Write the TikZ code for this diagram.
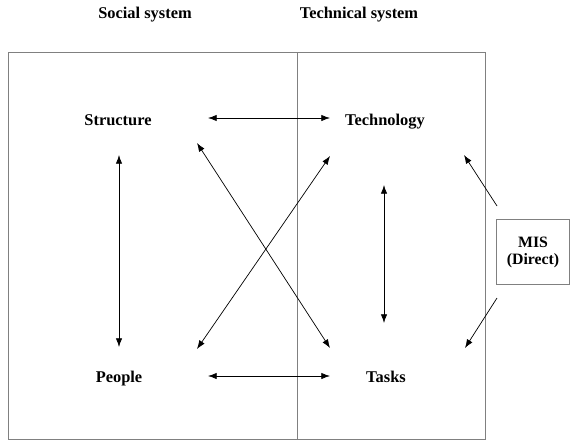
\documentclass[tikz,border=0pt]{standalone}
\usepackage{fontspec}
\setmainfont{Liberation Serif}
\usetikzlibrary{arrows.meta}

\tikzset{
  lbl/.style={font=\fontsize{14}{16}\selectfont\bfseries,text height=9pt,text depth=3pt},
  misbox/.style={draw=gray,thin,align=center,minimum width=2.2cm,minimum height=1.95cm,
    font=\fontsize{13.5}{14.5}\selectfont\bfseries},
  link/.style={line width=0.6pt,>={Latex[length=2.6mm,width=1.9mm]}}
}

\begin{document}
\begin{tikzpicture}[x=0.03cm,y=-0.03cm]
  \useasboundingbox (0,0) rectangle (570,441);
  % frame and divider
  \draw[gray,thin] (8,52) rectangle (485,439);
  \draw[gray,thin] (297,52) -- (297,439);
  % headings
  \node[lbl] (social) at (145,15) {Social system};
  \node[lbl] (technical) at (359,15) {Technical system};
  % elements
  \node[lbl] (structure) at (118,122) {Structure};
  \node[lbl] (technology) at (385,122) {Technology};
  \node[lbl] (people) at (119,379) {People};
  \node[lbl] (tasks) at (386,379) {Tasks};
  \node[misbox] (mis) at (533,252) {MIS\\(Direct)};
  % links
  \draw[link,<->] ([shift={(90,-4)}]structure.center) -- ([shift={(-55,-4)}]technology.center);
  \draw[link,<->] ([shift={(89,-3)}]people.center) -- ([shift={(-56,-3)}]tasks.center);
  \draw[link,<->] ([shift={(1,33)}]structure.center) -- ([shift={(0,-32)}]people.center);
  \draw[link,<->] ([shift={(-1,63)}]technology.center) -- ([shift={(-2,-56)}]tasks.center);
  \draw[link,<->] ([shift={(79,21)}]structure.center) -- ([shift={(-56,-31)}]tasks.center);
  \draw[link,<->] ([shift={(-55,34)}]technology.center) -- ([shift={(78,-30)}]people.center);
  \draw[link,->] ([shift={(-36,-46)}]mis.center) -- ([shift={(79,33)}]technology.center);
  \draw[link,->] ([shift={(-36,46)}]mis.center) -- ([shift={(79,-31)}]tasks.center);
\end{tikzpicture}
\end{document}
